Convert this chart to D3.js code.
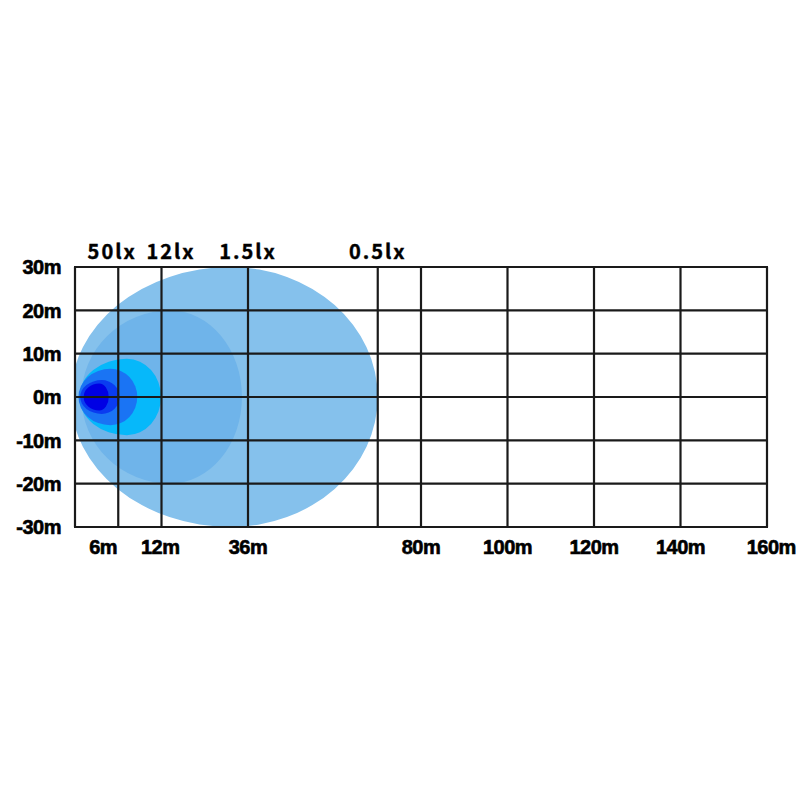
<!DOCTYPE html>
<html>
<head>
<meta charset="utf-8">
<script src="https://cdn.jsdelivr.net/npm/d3@7"></script>
<style>
  body { margin: 0; background: #fff; }
</style>
</head>
<body>
<div id="chart"></div>
<script>
// isolux contours, outermost first (metres)
const luxNames   = ["0.5lx", "1.5lx", "12lx", "20lx", "50lx", "100lx"];
const nearEdge   = [-1.0, 1.5, 1.0, 0.8, 1.2, 2.0];   // where the contour starts
const peakPos    = [36.0, 22.0, 12.0, 8.2, 6.2, 5.6]; // where it is widest
const farEdge    = [70, 38.6, 19.9, 14.4, 10.3, 7.8]; // where it ends
const halfWidth  = [30, 20, 8.8, 6.5, 3.9, 3.1];
const luxColors  = ["#85c1ec", "#6fb4ea", "#06b8fa", "#1a74f4", "#0a3cf0", "#0000e4"];

// top labels and where they sit (metres)
const topLabels  = ["50lx", "12lx", "1.5lx", "0.5lx"];
const topPos     = [8.6, 22.2, 40, 70];

// grid + ticks
const xGrid      = [0, 10, 20, 40, 70, 80, 100, 120, 140, 160];
const xTickText  = ["6m", "12m", "36m", "80m", "100m", "120m", "140m", "160m"];
const xTickPos   = [6.5, 19.7, 40, 80, 100, 120, 140, 161];
const yTicks     = [30, 20, 10, 0, -10, -20, -30];

var width = 800, height = 800;
var margin = { top: 267, left: 75, right: 33, bottom: 273 };

var svg = d3.select("#chart").append("svg")
    .attr("width", width)
    .attr("height", height);

var x = d3.scaleLinear().domain([0, 160]).range([margin.left, width - margin.right]);
var y = d3.scaleLinear().domain([-30, 30]).range([height - margin.bottom, margin.top]);

// clip so the beams stay inside the frame
svg.append("clipPath").attr("id", "plotClip")
    .append("rect")
    .attr("x", x(0)).attr("y", y(30))
    .attr("width", x(160) - x(0)).attr("height", y(-30) - y(30));

var beams = svg.append("g").attr("clip-path", "url(#plotClip)");

// egg shape: two half-ellipses joined at the widest point
function beamPath(d, i) {
    var x0 = x(nearEdge[i]), xp = x(peakPos[i]), x1 = x(farEdge[i]);
    var yc = y(0), yt = y(halfWidth[i]), yb = y(-halfWidth[i]);
    var ry = yc - yt, rl = xp - x0, rr = x1 - xp;
    return "M" + x0 + "," + yc +
        "A" + rl + "," + ry + " 0 0 1 " + xp + "," + yt +
        "A" + rr + "," + ry + " 0 0 1 " + x1 + "," + yc +
        "A" + rr + "," + ry + " 0 0 1 " + xp + "," + yb +
        "A" + rl + "," + ry + " 0 0 1 " + x0 + "," + yc + "Z";
}

beams.selectAll("path")
    .data(luxNames)
    .enter().append("path")
    .attr("d", beamPath)
    .attr("fill", (d, i) => luxColors[i]);

// grid lines
var grid = svg.append("g")
    .attr("stroke", "#1a1a1a")
    .attr("stroke-width", 2.2);

grid.selectAll(".vline")
    .data(xGrid)
    .enter().append("line")
    .attr("class", "vline")
    .attr("x1", d => x(d)).attr("x2", d => x(d))
    .attr("y1", y(30)).attr("y2", y(-30));

grid.selectAll(".hline")
    .data(yTicks)
    .enter().append("line")
    .attr("class", "hline")
    .attr("x1", x(0) - 1).attr("x2", x(160) + 1)
    .attr("y1", d => y(d)).attr("y2", d => y(d));

// y axis labels
svg.selectAll(".ylab")
    .data(yTicks)
    .enter().append("text")
    .attr("class", "ylab")
    .attr("x", 61)
    .attr("y", d => y(d))
    .attr("dy", "0.36em")
    .attr("text-anchor", "end")
    .style("font-family", "'Liberation Sans Narrow', 'Liberation Sans', sans-serif")
    .style("font-weight", "bold")
    .style("font-size", "20px")
    .style("letter-spacing", "-0.5px")
    .style("stroke", "#000").style("stroke-width", 0.6)
    .text(d => d + "m");

// x axis labels
svg.selectAll(".xlab")
    .data(xTickText)
    .enter().append("text")
    .attr("class", "xlab")
    .attr("x", (d, i) => x(xTickPos[i]))
    .attr("y", y(-30) + 27)
    .attr("text-anchor", "middle")
    .style("font-family", "'Liberation Sans Narrow', 'Liberation Sans', sans-serif")
    .style("font-weight", "bold")
    .style("font-size", "20px")
    .style("letter-spacing", "-0.5px")
    .style("stroke", "#000").style("stroke-width", 0.6)
    .text(d => d);

// lux labels above the frame
svg.selectAll(".luxlab")
    .data(topLabels)
    .enter().append("text")
    .attr("class", "luxlab")
    .attr("x", (d, i) => x(topPos[i]))
    .attr("y", y(30) - 8)
    .attr("text-anchor", "middle")
    .style("font-family", "'Noto Sans CJK SC', 'DejaVu Sans', sans-serif")
    .style("font-weight", "bold")
    .style("font-size", "20px")
    .style("letter-spacing", "2px")
    .style("stroke", "#000").style("stroke-width", 0.4)
    .text(d => d);
</script>
</body>
</html>
